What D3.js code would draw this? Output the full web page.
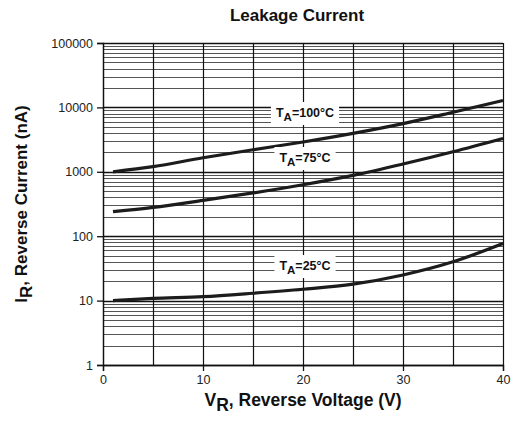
<!DOCTYPE html>
<html>
<head>
<meta charset="utf-8">
<script src="https://cdn.jsdelivr.net/npm/d3@7"></script>
<style>
  body { margin: 0; background: #fff; }
  text { font-family: "Liberation Sans", Arial, sans-serif; }
</style>
</head>
<body>
<div id="chart"></div>
<script>
// data (V in volts, I in nA)
const voltages = [1, 5, 10, 15, 20, 25, 30, 35, 40];
const i100 = [1000, 1200, 1650, 2200, 2900, 3950, 5600, 8400, 12800];
const i75 = [240, 280, 360, 470, 630, 880, 1320, 2050, 3300];
const i25 = [10, 10.8, 11.5, 13, 15, 18, 25, 40, 77];
const seriesNames = ["100", "75", "25"];
const xTicks = [0, 10, 20, 30, 40];
const yTicks = [1, 10, 100, 1000, 10000, 100000];

const W = 512, H = 421;
const margin = {top: 43, right: 9, bottom: 56, left: 103};
const width = W - margin.left - margin.right;
const height = H - margin.top - margin.bottom;

const svg = d3.select("#chart")
  .append("svg")
    .attr("width", W)
    .attr("height", H);

const g = svg.append("g")
    .attr("transform", `translate(${margin.left}, ${margin.top})`);

const x = d3.scaleLinear().domain([0, 40]).range([0, width]);
const y = d3.scaleLog().domain([1, 100000]).range([height, 0]);

// minor horizontal grid (2..9 of each decade)
const minor = [];
for (let d = 1; d < 100000; d *= 10) {
  for (let k = 2; k <= 9; k++) minor.push(d * k);
}
g.selectAll(".minor")
  .data(minor)
  .join("line")
    .attr("x1", 0).attr("x2", width)
    .attr("y1", d => Math.round(y(d)) + 0.5)
    .attr("y2", d => Math.round(y(d)) + 0.5)
    .attr("stroke", "#555")
    .attr("stroke-width", 1);

// decade lines
g.selectAll(".major")
  .data(yTicks)
  .join("line")
    .attr("x1", 0).attr("x2", width)
    .attr("y1", d => Math.round(y(d)) + 0.5)
    .attr("y2", d => Math.round(y(d)) + 0.5)
    .attr("stroke", "#111")
    .attr("stroke-width", 1.3);

// vertical grid every 5 V
g.selectAll(".vgrid")
  .data(d3.range(0, 41, 5))
  .join("line")
    .attr("x1", d => Math.round(x(d)) + 0.5)
    .attr("x2", d => Math.round(x(d)) + 0.5)
    .attr("y1", 0).attr("y2", height)
    .attr("stroke", "#111")
    .attr("stroke-width", 1.2);

// axes
const xAxis = g.append("g")
  .attr("transform", `translate(0, ${height})`)
  .call(d3.axisBottom(x).tickValues(xTicks).tickSize(6).tickPadding(4));
const yAxis = g.append("g")
  .call(d3.axisLeft(y).tickValues(yTicks).tickFormat(d3.format("d")).tickSize(6).tickPadding(4));

[xAxis, yAxis].forEach(a => {
  a.select(".domain").attr("stroke", "#111").attr("stroke-width", 1.3);
  a.selectAll(".tick line").attr("stroke", "#111").attr("stroke-width", 1.3);
  a.selectAll(".tick text")
    .attr("fill", "#222")
    .style("font-family", "Liberation Sans, Arial, sans-serif")
    .style("font-size", "12.5px");
});

// curves
const series = [i100, i75, i25];
const line = d3.line()
  .x((d, i) => x(voltages[i]))
  .y(d => y(d))
  .curve(d3.curveMonotoneX);

g.selectAll(".curve")
  .data(series)
  .join("path")
    .attr("fill", "none")
    .attr("stroke", "#1c1c1c")
    .attr("stroke-width", 3.2)
    .attr("d", d => line(d));

// labels with white boxes behind them
const labelY = [117, 162, 270];
seriesNames.forEach((name, i) => {
  const lg = g.append("g");
  const rect = lg.append("rect").attr("fill", "#fff");
  const t = lg.append("text")
    .attr("x", x(20.2))
    .attr("y", labelY[i] - margin.top)
    .attr("text-anchor", "middle")
    .style("font-weight", "bold")
    .style("font-size", "12.5px")
    .attr("fill", "#111");
  t.append("tspan").text("T");
  t.append("tspan").text("A").attr("dy", 4).style("font-size", "11.5px");
  t.append("tspan").text(`=${name}°C`).attr("dy", -4);
  const bb = t.node().getBBox();
  rect.attr("x", bb.x - 5)
    .attr("y", bb.y - 4)
    .attr("width", bb.width + 10)
    .attr("height", bb.height + 6);
});

// title
svg.append("text")
  .attr("x", 297).attr("y", 21)
  .attr("text-anchor", "middle")
  .style("font-weight", "bold")
  .style("font-size", "17px")
  .attr("fill", "#111")
  .text("Leakage Current");

// x label
const xl = svg.append("text")
  .attr("x", 303).attr("y", 406)
  .attr("text-anchor", "middle")
  .style("font-weight", "bold")
  .style("font-size", "17.5px")
  .attr("fill", "#111");
xl.append("tspan").text("V");
xl.append("tspan").text("R").attr("dy", 5);
xl.append("tspan").text(", Reverse Voltage (V)").attr("dy", -5);

// y label
const yl = svg.append("text")
  .attr("transform", `translate(27, ${margin.top + height / 2}) rotate(-90)`)
  .attr("text-anchor", "middle")
  .style("font-weight", "bold")
  .style("font-size", "17px")
  .attr("fill", "#111");
yl.append("tspan").text("I");
yl.append("tspan").text("R").attr("dy", 5);
yl.append("tspan").text(", Reverse Current (nA)").attr("dy", -5);
</script>
</body>
</html>
